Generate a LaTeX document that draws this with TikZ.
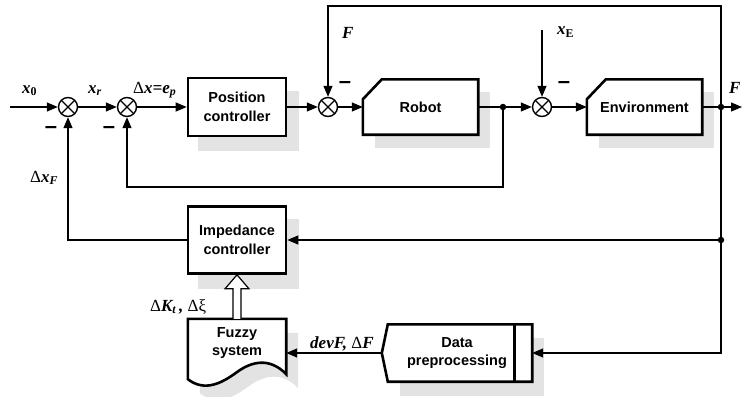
\documentclass[tikz,border=0pt]{standalone}
\usepackage{fontspec}
\setmainfont{Liberation Serif}
\setsansfont{Liberation Sans}
\usetikzlibrary{arrows.meta,calc,backgrounds}
\newcommand\Dl{{\normalfont\upshape Δ}}
\newcommand\cutbox[1]{($(#1.north west)+(0,20)$) -- ($(#1.north west)+(19,0)$) -- (#1.north east)
  -- (#1.south east) -- (#1.south west) -- cycle}
\newcommand\tagbox[1]{(#1.west) -- ($(#1.north west)+(6,0)$) -- (#1.north east) -- (#1.south east)
  -- ($(#1.south west)+(6,0)$) -- cycle}
\newcommand\docbox[1]{($(#1.south west)+(0,12)$) -- (#1.north west) -- (#1.north east) -- ($(#1.south east)+(0,7)$)
  .. controls ($(#1.south west)+(82,-10)$) and ($(#1.south west)+(64,-6)$) .. ($(#1.south west)+(49,5)$)
  .. controls ($(#1.south west)+(34,16)$) and ($(#1.south west)+(17,25)$) .. ($(#1.south west)+(0,12)$) -- cycle}
\tikzset{
 line/.style={line width=1.2pt},
 arr/.style={line, -{Triangle[length=11pt,width=9pt]}},
 blk/.style={rectangle, minimum width=98pt, minimum height=58pt, inner sep=0pt, align=center,
   font=\fontsize{14.5}{18.5}\selectfont\sffamily\bfseries},
 outl/.style={line width=2.6pt, line join=miter},
 sumj/.style={circle, draw, fill=white, line width=1.4pt, minimum size=19pt, inner sep=0pt,
   path picture={\draw[line width=1.2pt] (path picture bounding box.north west)--(path picture bounding box.south east)
     (path picture bounding box.north east)--(path picture bounding box.south west);}},
 dotn/.style={circle, fill, inner sep=0pt, minimum size=6.5pt},
 lab/.style={font=\fontsize{17}{17}\selectfont\bfseries\itshape, inner sep=0pt, anchor=base west},
 minus/.style={font=\fontsize{22}{22}\selectfont\sffamily\bfseries, inner sep=0pt},
 shad/.style={fill=black!11, draw=none},
}
\begin{document}
\begin{tikzpicture}[x=1pt,y=-1pt]
\useasboundingbox (0,0) rectangle (743,396);
% junctions
\node[sumj] (s1) at (68,107) {};
\node[sumj] (s2) at (127,107) {};
\node[sumj] (s3) at (328,107) {};
\node[sumj] (s4) at (542,107) {};
% blocks
\node[blk, draw, fill=white, outl] (pos) at (237,107) {Position\\controller};
\node[blk, minimum width=115pt, minimum height=55pt] (robot) at (420.5,107) {Robot};
\node[blk, minimum width=115pt, minimum height=55pt] (env) at (644.5,107) {Environment};
\node[blk, draw, fill=white, outl, minimum height=67pt] (imp) at (237,240) {Impedance\\controller};
\node[blk, minimum height=48pt] (fz) at (237,343) {Fuzzy\\system};
\node[blk, minimum width=150pt, minimum height=57pt] (data) at (457,353) {Data\\preprocessing};
% outlines of shaped blocks
\draw[outl] \cutbox{robot};
\draw[outl] \cutbox{env};
\draw[outl] \tagbox{data};
\draw[outl] ($(data.north east)+(-18,0)$) -- ($(data.south east)+(-18,0)$);
\draw[outl] \docbox{fz};
% shadows and white fills
\begin{scope}[on background layer]
\fill[shad] ($(pos.north west)+(11,14)$) rectangle ($(pos.south east)+(12,14)$);
\fill[shad] ($(robot.north west)+(12,13)$) rectangle ($(robot.south east)+(12,13)$);
\fill[shad] ($(env.north west)+(12,13)$) rectangle ($(env.south east)+(12,13)$);
\fill[shad] ($(imp.north west)+(11,14)$) rectangle ($(imp.south east)+(12,14)$);
\fill[shad] ($(data.north west)+(18,14)$) rectangle ($(data.south east)+(12,14)$);
\fill[shad] ($(fz.south west)+(12,26)$) -- ($(fz.north west)+(12,14)$) -- ($(fz.north east)+(12,14)$) -- ($(fz.south east)+(12,21)$)
  .. controls ($(fz.south west)+(94,4)$) and ($(fz.south west)+(76,8)$) .. ($(fz.south west)+(61,19)$)
  .. controls ($(fz.south west)+(46,30)$) and ($(fz.south west)+(29,39)$) .. ($(fz.south west)+(12,26)$) -- cycle;
\fill[white] \cutbox{robot};
\fill[white] \cutbox{env};
\fill[white] \tagbox{data};
\fill[white] \docbox{fz};
\end{scope}
% dots and coordinates
\node[dotn] (d1) at (503,107) {};
\node[dotn] (d2) at (721,107) {};
\node[dotn] (d3) at (721,240) {};
\coordinate (in0) at (10,107);
\coordinate (out) at (742,107);
\coordinate (tr) at (721,6);
\coordinate (tl) at (328,6);
\coordinate (xEtop) at (542,30);
\coordinate (fb) at (503,187);
\coordinate (dc) at (721,353);
% connectors
\draw[arr] (in0) -- (s1);
\draw[arr] (s1) -- (s2);
\draw[arr] (s2) -- (pos);
\draw[arr] (pos) -- (s3);
\draw[arr] (s3) -- (robot);
\draw[line] (robot) -- (d1);
\draw[arr] (d1) -- (s4);
\draw[arr] (s4) -- (env);
\draw[line] (env) -- (d2);
\draw[arr] (d2) -- (out);
\draw[arr] (d2) -- (tr) -- (tl) -- (s3);
\draw[arr] (xEtop) -- (s4);
\draw[arr] (d1) -- (fb) -| (s2);
\draw[line] (d2) -- (d3);
\draw[arr] (d3) -- (dc) -- (data.east);
\draw[arr] (d3) -- (imp);
\draw[arr] (imp) -| (s1);
\draw[arr] (data.west) -- (data.west -| fz.east);
% hollow arrow
\draw[line, fill=white, line join=miter] ($(fz.north)+(-4,0)$) -- ($(imp.south)+(-4,14)$) -- ($(imp.south)+(-12,14)$)
  -- (imp.south) -- ($(imp.south)+(12,14)$) -- ($(imp.south)+(4,14)$) -- ($(fz.north)+(4,0)$);
% labels
\node[lab] (lx0) at (22,93) {x\textsubscript{\upshape 0}};
\node[lab] (lxr) at (88,93) {x\textsubscript{r}};
\node[lab] (ldx) at (133,93) {\Dl x=e\textsubscript{p}};
\node[lab] (lF1) at (342,38) {F};
\node[lab] (lxE) at (557,35) {x\textsubscript{\upshape E}};
\node[lab] (lF2) at (729,93) {F};
\node[lab] (ldxF) at (30,182) {\Dl x\textsubscript{F}};
\node[lab] (ldK) at (150,311) {\Dl K\textsubscript{t}\,, {\normalfont\Dl ξ}};
\node[lab] (ldev) at (310,348) {devF, \Dl F};
% minus signs
\node[minus] (m1) at (51,130) {–};
\node[minus] (m2) at (109,130) {–};
\node[minus] (m3) at (345,85) {–};
\node[minus] (m4) at (564,85) {–};
\end{tikzpicture}
\end{document}
